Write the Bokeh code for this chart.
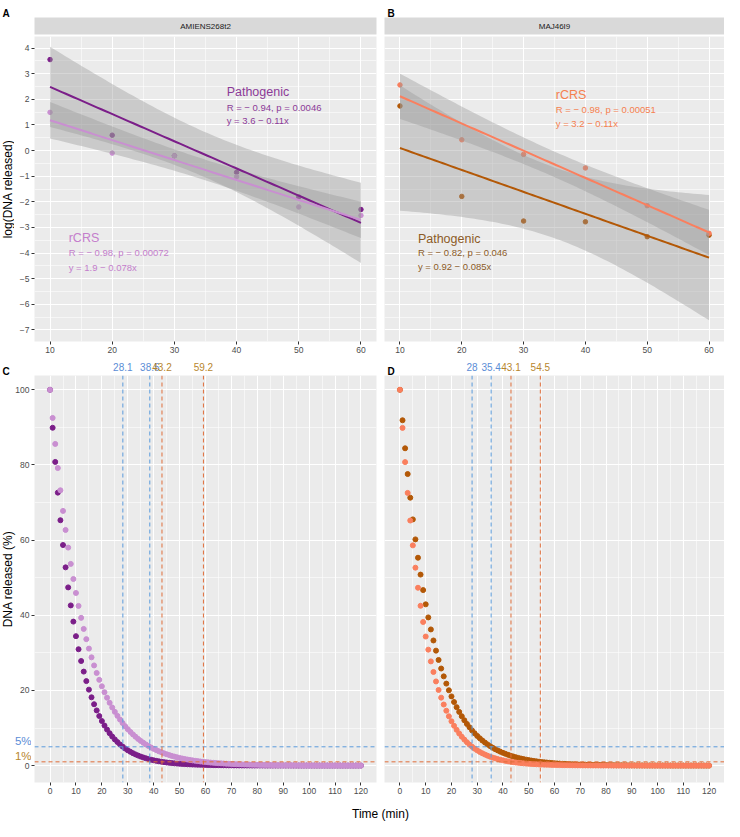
import numpy as np
from bokeh.plotting import figure
from bokeh.models import (FixedTicker, LinearAxis, Label, Span, Range1d, Grid,
                          CustomJSTickFormatter)
from bokeh.layouts import column, row
from bokeh.embed import file_html
from bokeh.resources import INLINE

FONT = "Liberation Sans"

# ------------------------------------------------------------------ data
log_times = [10, 20, 30, 40, 50, 60]
A_pathogenic = [3.55, 0.60, -0.20, -0.85, -1.81, -2.30]
A_rcrs = [1.49, -0.10, -0.20, -1.02, -2.20, -2.53]
B_rcrs = [2.56, 0.42, -0.15, -0.68, -2.15, -3.23]
B_pathogenic = [1.74, -1.79, -2.75, -2.78, -3.36, -3.30]

A_title = "AMIENS268t2"
B_title = "MAJ46I9"
A_path_stats = ["Pathogenic", "R = \u2212 0.94, p = 0.0046", "y = 3.6 \u2212 0.11x"]
A_rcrs_stats = ["rCRS", "R = \u2212 0.98, p = 0.00072", "y = 1.9 \u2212 0.078x"]
B_rcrs_stats = ["rCRS", "R = \u2212 0.98, p = 0.00051", "y = 3.2 \u2212 0.11x"]
B_path_stats = ["Pathogenic", "R = \u2212 0.82, p = 0.046", "y = 0.92 \u2212 0.085x"]

minutes = list(range(121))
C_pathogenic = [
    100.0, 89.89, 80.80, 72.63, 65.29, 58.69, 52.75, 47.42, 42.62, 38.31, 34.44,
    30.96, 27.83, 25.01, 22.48, 20.21, 18.17, 16.33, 14.68, 13.19, 11.86,
    10.66, 9.58, 8.61, 7.74, 6.96, 6.26, 5.62, 5.06, 4.54, 4.08,
    3.67, 3.30, 2.97, 2.67, 2.40, 2.16, 1.94, 1.74, 1.56, 1.41,
    1.26, 1.14, 1.02, 0.92, 0.83, 0.74, 0.67, 0.60, 0.54, 0.48,
    0.44, 0.39, 0.35, 0.32, 0.28, 0.26, 0.23, 0.21, 0.19, 0.17,
    0.15, 0.13, 0.12, 0.11, 0.10, 0.09, 0.08, 0.07, 0.06, 0.06,
    0.05, 0.05, 0.04, 0.04, 0.03, 0.03, 0.03, 0.02, 0.02, 0.02,
    0.02, 0.02, 0.01, 0.01, 0.01, 0.01, 0.01, 0.01, 0.01, 0.01,
    0.01, 0.01, 0.01, 0.00, 0.00, 0.00, 0.00, 0.00, 0.00, 0.00,
    0.00, 0.00, 0.00, 0.00, 0.00, 0.00, 0.00, 0.00, 0.00, 0.00,
    0.00, 0.00, 0.00, 0.00, 0.00, 0.00, 0.00, 0.00, 0.00, 0.00,
]
C_rcrs = [
    100.0, 92.51, 85.59, 79.18, 73.26, 67.77, 62.70, 58.01, 53.67, 49.65, 45.93,
    42.49, 39.31, 36.37, 33.65, 31.13, 28.80, 26.65, 24.65, 22.81, 21.10,
    19.52, 18.06, 16.71, 15.46, 14.30, 13.23, 12.24, 11.32, 10.48, 9.69,
    8.97, 8.30, 7.68, 7.10, 6.57, 6.08, 5.62, 5.20, 4.81, 4.45,
    4.12, 3.81, 3.53, 3.26, 3.02, 2.79, 2.58, 2.39, 2.21, 2.05,
    1.89, 1.75, 1.62, 1.50, 1.39, 1.28, 1.19, 1.10, 1.02, 0.94,
    0.87, 0.80, 0.74, 0.69, 0.64, 0.59, 0.55, 0.50, 0.47, 0.43,
    0.40, 0.37, 0.34, 0.32, 0.29, 0.27, 0.25, 0.23, 0.21, 0.20,
    0.18, 0.17, 0.16, 0.15, 0.13, 0.12, 0.12, 0.11, 0.10, 0.09,
    0.08, 0.08, 0.07, 0.07, 0.06, 0.06, 0.05, 0.05, 0.05, 0.04,
    0.04, 0.04, 0.03, 0.03, 0.03, 0.03, 0.02, 0.02, 0.02, 0.02,
    0.02, 0.02, 0.02, 0.01, 0.01, 0.01, 0.01, 0.01, 0.01, 0.01,
]
D_rcrs = [
    100.0, 89.86, 80.75, 72.56, 65.21, 58.60, 52.66, 47.32, 42.52, 38.21, 34.34,
    30.85, 27.73, 24.91, 22.39, 20.12, 18.08, 16.25, 14.60, 13.12, 11.79,
    10.59, 9.52, 8.55, 7.69, 6.91, 6.21, 5.58, 5.01, 4.51, 4.05,
    3.64, 3.27, 2.94, 2.64, 2.37, 2.13, 1.92, 1.72, 1.55, 1.39,
    1.25, 1.12, 1.01, 0.91, 0.81, 0.73, 0.66, 0.59, 0.53, 0.48,
    0.43, 0.39, 0.35, 0.31, 0.28, 0.25, 0.23, 0.20, 0.18, 0.16,
    0.15, 0.13, 0.12, 0.11, 0.10, 0.09, 0.08, 0.07, 0.06, 0.06,
    0.05, 0.05, 0.04, 0.04, 0.03, 0.03, 0.03, 0.02, 0.02, 0.02,
    0.02, 0.02, 0.01, 0.01, 0.01, 0.01, 0.01, 0.01, 0.01, 0.01,
    0.01, 0.01, 0.01, 0.00, 0.00, 0.00, 0.00, 0.00, 0.00, 0.00,
    0.00, 0.00, 0.00, 0.00, 0.00, 0.00, 0.00, 0.00, 0.00, 0.00,
    0.00, 0.00, 0.00, 0.00, 0.00, 0.00, 0.00, 0.00, 0.00, 0.00,
]
D_pathogenic = [
    100.0, 91.89, 84.43, 77.58, 71.29, 65.51, 60.19, 55.31, 50.82, 46.70, 42.91,
    39.43, 36.23, 33.29, 30.59, 28.11, 25.83, 23.74, 21.81, 20.04, 18.41,
    16.92, 15.55, 14.29, 13.13, 12.06, 11.08, 10.19, 9.36, 8.60, 7.90,
    7.26, 6.67, 6.13, 5.63, 5.18, 4.76, 4.37, 4.02, 3.69, 3.39,
    3.12, 2.86, 2.63, 2.42, 2.22, 2.04, 1.88, 1.72, 1.58, 1.46,
    1.34, 1.23, 1.13, 1.04, 0.95, 0.88, 0.81, 0.74, 0.68, 0.62,
    0.57, 0.53, 0.48, 0.45, 0.41, 0.38, 0.35, 0.32, 0.29, 0.27,
    0.25, 0.23, 0.21, 0.19, 0.18, 0.16, 0.15, 0.14, 0.13, 0.12,
    0.11, 0.10, 0.09, 0.08, 0.08, 0.07, 0.06, 0.06, 0.05, 0.05,
    0.05, 0.04, 0.04, 0.04, 0.03, 0.03, 0.03, 0.03, 0.02, 0.02,
    0.02, 0.02, 0.02, 0.02, 0.01, 0.01, 0.01, 0.01, 0.01, 0.01,
    0.01, 0.01, 0.01, 0.01, 0.01, 0.01, 0.01, 0.00, 0.00, 0.00,
]
C_cut_times = [28.1, 38.5, 43.2, 59.2]
C_cut_labels = ["28.1", "38.5", "43.2", "59.2"]
D_cut_times = [28.0, 35.4, 43.1, 54.5]
D_cut_labels = ["28", "35.4", "43.1", "54.5"]
thresholds = [5, 1]
threshold_labels = ["5%", "1%"]

log_y_ticks = list(range(-7, 5))
pct_y_ticks = [0, 20, 40, 60, 80, 100]
pct_y_labels = ["0", "20", "40", "60", "80", "100"]
log_x_ticks = [10, 20, 30, 40, 50, 60]
min_x_ticks = list(range(0, 121, 10))

# ------------------------------------------------------------------ styles
DARK_PURPLE = "#7B1E89"
LIGHT_PURPLE = "#C98FD1"
SALMON = "#FA7F5E"
BROWN = "#B35806"
BLUE_LINE = "#5A9BDC"
ORANGE_LINE = "#E06E3A"
BLUE_TXT = "#5B8DD6"
GOLD_TXT = "#B8862E"
PANEL_BG = "#EBEBEB"
TICK_TXT = "#4D4D4D"
T_CRIT = 2.776  # t quantile 0.975, df = 4

MINUS_FMT = CustomJSTickFormatter(
    code="return tick < 0 ? '\\u2212' + String(Math.abs(tick)) : String(tick);")
BLANK_FMT = CustomJSTickFormatter(code="return '';")


class Panel:
    """A figure placed at layout position (px, py) with explicit borders."""

    def __init__(self, px, py, w, h, bl=0, br=0, bt=0, bb=0,
                 xr=(0.0, 1.0), yr=(0.0, 1.0), bg="white"):
        self.px, self.py, self.w, self.h = px, py, w, h
        self.bl, self.br, self.bt, self.bb = bl, br, bt, bb
        self.xr, self.yr = xr, yr
        self.fw = w - bl - br
        self.fh = h - bt - bb
        self.fx0 = px + bl
        self.fy0 = py + bt
        p = figure(width=w, height=h, x_range=Range1d(*xr), y_range=Range1d(*yr),
                   x_axis_location=None, y_axis_location=None,
                   output_backend="svg", toolbar_location=None,
                   min_border_left=bl, min_border_right=br,
                   min_border_top=bt, min_border_bottom=bb,
                   background_fill_color=bg, border_fill_color="white",
                   outline_line_color=None)
        p.center = []
        self.p = p

    def page_x(self, X):
        return self.xr[0] + (X - self.fx0) * (self.xr[1] - self.xr[0]) / self.fw

    def page_y(self, Y):
        return self.yr[1] - (Y - self.fy0) * (self.yr[1] - self.yr[0]) / self.fh

    def grid(self, dim, ticks, minor):
        self.p.add_layout(Grid(dimension=dim, ticker=FixedTicker(ticks=ticks, minor_ticks=minor),
                               grid_line_color="white", grid_line_width=1.1,
                               minor_grid_line_color="white", minor_grid_line_width=0.55))

    def axis(self, side, ticks, formatter=MINUS_FMT, standoff=2):
        ax = LinearAxis(ticker=FixedTicker(ticks=ticks, minor_ticks=[]), formatter=formatter)
        ax.axis_line_color = None
        ax.major_tick_line_color = "#333333"
        ax.major_tick_out = 3
        ax.major_tick_in = 0
        ax.minor_tick_out = 0
        ax.minor_tick_in = 0
        ax.major_label_standoff = standoff
        ax.major_label_text_font = FONT
        ax.major_label_text_font_size = "8.5px"
        ax.major_label_text_color = TICK_TXT
        self.p.add_layout(ax, side)

    def text(self, x, y, txt, size, color, align="left", baseline="alphabetic",
             angle=0.0, style="normal"):
        self.p.add_layout(Label(x=x, y=y, text=txt, text_font=FONT,
                                text_font_size=f"{size}px", text_color=color,
                                text_align=align, text_baseline=baseline,
                                angle=angle, text_font_style=style))


def side_column(px, w, ref):
    """A white column left of ref, sharing ref's vertical borders and y range.
    Its x data coordinates are layout pixels."""
    return Panel(px, ref.py, w, ref.h, 0, 0, ref.bt, ref.bb,
                 xr=(px, px + w), yr=ref.yr)


def header_row(px, py, w, h, ref):
    """A borderless white strip whose x data coordinates coincide with ref's;
    its y data coordinates are negative layout pixels."""
    return Panel(px, py, w, h, xr=(ref.page_x(px), ref.page_x(px + w)),
                 yr=(-(py + h), -py))


def page_fig(px, py, w, h):
    return Panel(px, py, w, h, xr=(px, px + w), yr=(-(py + h), -py))


def fit_band(x, y, n=80):
    x = np.asarray(x, float)
    y = np.asarray(y, float)
    b, a = np.polyfit(x, y, 1)
    xs = np.linspace(x.min(), x.max(), n)
    yhat = a + b * xs
    resid = y - (a + b * x)
    s = np.sqrt(np.sum(resid ** 2) / (len(x) - 2))
    se = s * np.sqrt(1.0 / len(x) + (xs - x.mean()) ** 2 / np.sum((x - x.mean()) ** 2))
    return xs, yhat, yhat - T_CRIT * se, yhat + T_CRIT * se


# ------------------------------------------------------------------ geometry (layout px)
FRAME_L = 34          # left frame start
FRAME_L_END = 376     # left frame end
GAP_R = 4             # border right of left panels
SPLIT = FRAME_L_END + GAP_R          # 380: start of right figures
R_BL = 4                              # right frame start = 384
TOTAL_W = 724
RW = TOTAL_W - SPLIT                  # 344

TA_W = 14            # y-title column beside panel A
TC_W = 31            # y-title + tick-label column beside panel C

LOG_XR = (7.5, 62.5)
LOG_YR = (-7.45, 4.45)
MIN_XR = (-6, 126)
PCT_YR = (-4.5, 103.8)

Y_LET, H_LET = 0, 17
Y_STRIP, H_STRIP = 17, 18
Y_LOG, H_LOG = 35, 324
Y_CUT, H_CUT = 359, 16
Y_PCT, H_PCT = 375, 430
Y_TTL, H_TTL = 805, 16

# ------------------------------------------------------------------ panel A / B
LOG_MINOR_X = [15, 25, 35, 45, 55]
LOG_MINOR_Y = [v + 0.5 for v in range(-7, 4)]


def log_panel(px, w, bl, br, series, stats, left_axis):
    pn = Panel(px, Y_LOG, w, H_LOG, bl, br, 1, 18, LOG_XR, LOG_YR, bg=PANEL_BG)
    pn.grid(0, log_x_ticks, LOG_MINOR_X)
    pn.grid(1, log_y_ticks, LOG_MINOR_Y)
    pn.axis("below", log_x_ticks)
    if left_axis:
        pn.axis("left", log_y_ticks)
    p = pn.p
    for ys, col in series:
        p.scatter(log_times, ys, size=4.5, fill_color=col, line_color=col)
    fits = [(fit_band(log_times, ys), col) for ys, col in series]
    for (xs, yh, lo, hi), col in fits:
        p.varea(x=xs, y1=lo, y2=hi, fill_color="#999999", fill_alpha=0.4)
    for (xs, yh, lo, hi), col in fits:
        p.line(xs, yh, line_color=col, line_width=2)
    for (x0, ys, txts, col) in stats:
        pn.text(x0, ys[0], txts[0], 12.5, col)
        pn.text(x0, ys[1], txts[1], 9.5, col)
        pn.text(x0, ys[2], txts[2], 9.5, col)
    return pn


pA = log_panel(TA_W, SPLIT - TA_W, FRAME_L - TA_W, GAP_R,
               [(A_pathogenic, DARK_PURPLE), (A_rcrs, LIGHT_PURPLE)],
               [(38.4, (2.27, 1.69, 1.17), A_path_stats, "#8B3A98"),
                (13.0, (-3.40, -3.98, -4.56), A_rcrs_stats, "#C47ECB")],
               True)
pB = log_panel(SPLIT, RW, R_BL, 0,
               [(B_pathogenic, BROWN), (B_rcrs, SALMON)],
               [(35.2, (2.16, 1.62, 1.07), B_rcrs_stats, "#F5804F"),
                (12.9, (-3.46, -3.98, -4.53), B_path_stats, "#8C5B27")],
               False)

tA = side_column(0, TA_W, pA)
tA.text(7, pA.page_y(188.5), "log(DNA released)", 12, "black",
        align="center", baseline="middle", angle=np.pi / 2)

# ------------------------------------------------------------------ letters + strips
letters = page_fig(0, Y_LET, TOTAL_W, H_LET)
letters.text(2, -12.5, "A", 10, "black", style="bold")
letters.text(387, -12.5, "B", 10, "black", style="bold")

sA = Panel(0, Y_STRIP, SPLIT, H_STRIP, FRAME_L, GAP_R, 0, 1, bg="#D9D9D9")
sA.text(0.5, 0.5, A_title, 8, "#1A1A1A", align="center", baseline="middle")
sB = Panel(SPLIT, Y_STRIP, RW, H_STRIP, R_BL, 0, 0, 1, bg="#D9D9D9")
sB.text(0.5, 0.5, B_title, 8, "#1A1A1A", align="center", baseline="middle")

# ------------------------------------------------------------------ panel C / D
MIN_MINOR_X = list(range(5, 120, 10))
PCT_MINOR_Y = [10, 30, 50, 70, 90]
CUT_COLORS = [BLUE_TXT, BLUE_TXT, GOLD_TXT, GOLD_TXT]
CUT_LINE_COLORS = [BLUE_LINE, BLUE_LINE, ORANGE_LINE, ORANGE_LINE]
THR_LINE_COLORS = [BLUE_LINE, ORANGE_LINE]
THR_TXT_COLORS = [BLUE_TXT, GOLD_TXT]


def pct_panel(px, w, bl, br, series, cuts, left_ticks):
    pn = Panel(px, Y_PCT, w, H_PCT, bl, br, 0, 23, MIN_XR, PCT_YR, bg=PANEL_BG)
    pn.grid(0, min_x_ticks, MIN_MINOR_X)
    pn.grid(1, pct_y_ticks, PCT_MINOR_Y)
    pn.axis("below", min_x_ticks)
    if left_ticks:
        pn.axis("left", pct_y_ticks, formatter=BLANK_FMT, standoff=0)
    p = pn.p
    for ys, col in series:
        p.scatter(minutes, ys, size=5, fill_color=col, line_color=col)
    for t, col in zip(thresholds, THR_LINE_COLORS):
        p.add_layout(Span(location=t, dimension="width", line_color=col,
                          line_dash="4 3", line_width=1))
    for t, col in zip(cuts, CUT_LINE_COLORS):
        p.add_layout(Span(location=t, dimension="height", line_color=col,
                          line_dash="4 3", line_width=1))
    return pn


pC = pct_panel(TC_W, SPLIT - TC_W, FRAME_L - TC_W, GAP_R,
               [(C_pathogenic, DARK_PURPLE), (C_rcrs, LIGHT_PURPLE)], C_cut_times, True)
pD = pct_panel(SPLIT, RW, R_BL, 0,
               [(D_pathogenic, BROWN), (D_rcrs, SALMON)], D_cut_times, False)

# cut-time labels above C / D
cutC = header_row(0, Y_CUT, SPLIT, H_CUT, pC)
cutD = header_row(SPLIT, Y_CUT, RW, H_CUT, pD)
for hdr, ref, cuts, labs, letter, lx in [(cutC, pC, C_cut_times, C_cut_labels, "C", 2),
                                         (cutD, pD, D_cut_times, D_cut_labels, "D", 387)]:
    for t, lab, col in zip(cuts, labs, CUT_COLORS):
        hdr.text(t, -366.5, lab, 10, col, align="center", baseline="middle")
    hdr.text(ref.page_x(lx), -370.5, letter, 10, "black", style="bold")

# y title, tick labels and threshold labels left of C
tC = side_column(0, TC_W, pC)
tC.text(7, pC.page_y(578.5), "DNA released (%)", 12, "black",
        align="center", baseline="middle", angle=np.pi / 2)
for t, lab in zip(pct_y_ticks, pct_y_labels):
    tC.text(29, t, lab, 8.5, TICK_TXT, align="right", baseline="middle")
for t, lab, col in zip(thresholds, threshold_labels, THR_TXT_COLORS):
    tC.text(31, t, lab, 11.5, col, align="right", baseline="bottom")

# x title
ttl = page_fig(0, Y_TTL, TOTAL_W, H_TTL)
ttl.text(380, -813, "Time (min)", 12, "black", align="center", baseline="middle")

layout = column(
    letters.p,
    row(sA.p, sB.p),
    row(tA.p, pA.p, pB.p),
    row(cutC.p, cutD.p),
    row(tC.p, pC.p, pD.p),
    ttl.p,
)

open("out.html", "w").write(file_html(layout, INLINE))
